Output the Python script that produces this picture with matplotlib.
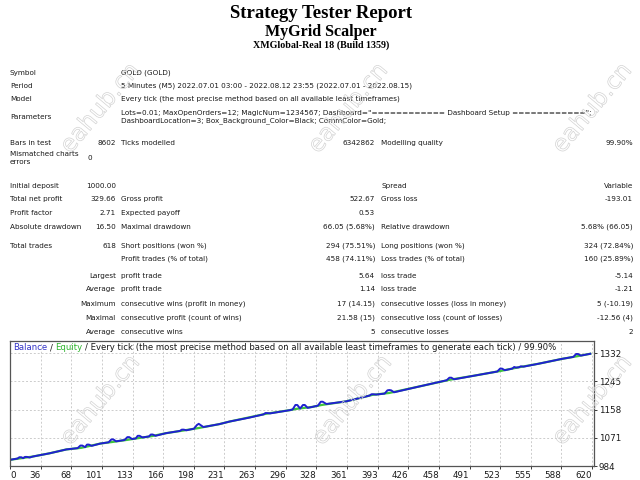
import matplotlib
matplotlib.use("Agg")
import matplotlib.pyplot as plt
import matplotlib.patheffects as pe
import numpy as np

# ---- report header ----
title = "Strategy Tester Report"
ea_name = "MyGrid Scalper"
server = "XMGlobal-Real 18 (Build 1359)"

info_labels = ["Symbol", "Period", "Model", "Parameters"]
info_values = [
    "GOLD (GOLD)",
    "5 Minutes (M5) 2022.07.01 03:00 - 2022.08.12 23:55 (2022.07.01 - 2022.08.15)",
    "Every tick (the most precise method based on all available least timeframes)",
    'Lots=0.01; MaxOpenOrders=12; MagicNum=1234567; Dashboard="============ Dashboard Setup ============";\n'
    "DashboardLocation=3; Box_Background_Color=Black; CommColor=Gold;",
]

# label1, value1, label2, value2, label3, value3
stats_rows = [
    ("Bars in test", "8602", "Ticks modelled", "6342862", "Modelling quality", "99.90%"),
    ("Mismatched charts\nerrors", "0", "", "", "", ""),
    ("Initial deposit", "1000.00", "", "", "Spread", "Variable"),
    ("Total net profit", "329.66", "Gross profit", "522.67", "Gross loss", "-193.01"),
    ("Profit factor", "2.71", "Expected payoff", "0.53", "", ""),
    ("Absolute drawdown", "16.50", "Maximal drawdown", "66.05 (5.68%)", "Relative drawdown", "5.68% (66.05)"),
    ("Total trades", "618", "Short positions (won %)", "294 (75.51%)", "Long positions (won %)", "324 (72.84%)"),
    ("", "", "Profit trades (% of total)", "458 (74.11%)", "Loss trades (% of total)", "160 (25.89%)"),
    ("Largest", "", "profit trade", "5.64", "loss trade", "-5.14"),
    ("Average", "", "profit trade", "1.14", "loss trade", "-1.21"),
    ("Maximum", "", "consecutive wins (profit in money)", "17 (14.15)", "consecutive losses (loss in money)", "5 (-10.19)"),
    ("Maximal", "", "consecutive profit (count of wins)", "21.58 (15)", "consecutive loss (count of losses)", "-12.56 (4)"),
    ("Average", "", "consecutive wins", "5", "consecutive losses", "2"),
]

# ---- balance / equity chart ----
trade_x = [0, 8, 10, 12, 14, 16, 18, 21, 24, 42, 60,
           72, 75, 77, 80, 82, 84, 87, 96,
           105, 108, 110, 113, 122, 125, 127, 130,
           134, 136, 138, 141, 148, 150, 152, 155, 166,
           181, 183, 185, 188, 196, 199, 201, 203, 206, 223, 234, 255,
           270, 272, 274, 277, 298,
           301, 304, 306, 309, 312, 314, 317, 322,
           328, 331, 333, 337, 358,
           383, 385, 387, 390, 399, 402, 404, 406, 409, 436,
           465, 468, 470, 473, 494,
           519, 522, 524, 527, 535, 537, 539, 542, 544, 547, 563, 588,
           600, 603, 605, 608, 618]
balance = [1003, 1007, 1011, 1011, 1008, 1012, 1012, 1010, 1013, 1023, 1035,
           1039, 1047, 1047, 1042, 1050, 1050, 1046, 1053,
           1057, 1066, 1066, 1060, 1064, 1073, 1073, 1067,
           1069, 1077, 1077, 1072, 1075, 1081, 1081, 1077, 1085,
           1092, 1096, 1096, 1094, 1099, 1110, 1114, 1110, 1104, 1113, 1121, 1133,
           1143, 1147, 1147, 1146, 1156,
           1158, 1172, 1172, 1161, 1172, 1172, 1163, 1166,
           1170, 1182, 1182, 1175, 1183,
           1201, 1205, 1205, 1204, 1207, 1217, 1218, 1217, 1211, 1229,
           1248, 1256, 1256, 1251, 1262,
           1275, 1284, 1284, 1279, 1284, 1289, 1287, 1288, 1291, 1290, 1299, 1314,
           1320, 1329, 1329, 1324, 1329.66]

equity_x = [0, 24, 42, 60, 76, 96, 109, 126, 137, 151, 166, 184, 201, 223, 234,
            273, 298, 305, 322, 332, 358, 386, 404, 436, 469, 494, 523, 540,
            563, 588, 604, 618]
equity = [1003, 1013, 1023, 1035, 1040, 1053, 1058, 1065, 1070, 1076, 1085, 1093,
          1101, 1113, 1121, 1145, 1156, 1160, 1166, 1172, 1183, 1203, 1209, 1229,
          1250, 1262, 1277, 1287, 1299, 1314, 1322, 1329.66]

x_tick_labels = ["0", "36", "68", "101", "133", "166", "198", "231", "263", "296",
                 "328", "361", "393", "426", "458", "491", "523", "555", "588", "620"]
y_ticks = [984, 1071, 1158, 1245, 1332]

chart_caption = ("/ Every tick (the most precise method based on all available "
                 "least timeframes to generate each tick) / 99.90%")

W, H = 640, 480
fig = plt.figure(figsize=(6.4, 4.8), dpi=100)
fig.patch.set_facecolor("white")

INK = "#1a1a1a"
TXT = dict(fontsize=5.2, color=INK, family="DejaVu Sans")


def put(x, y, s, **kw):
    return fig.text(x / W, 1 - y / H, s, va="center", **kw)


serif = dict(family="Liberation Serif", fontweight="bold", color="black", ha="center")
put(321, 13, title, fontsize=13.5, **serif)
put(321, 32, ea_name, fontsize=11.5, **serif)
put(321, 45, server, fontsize=7.2, **serif)

info_y = [73, 86, 99, 117]
for y, lab, val in zip(info_y, info_labels, info_values):
    put(10, y, lab, **TXT)
    put(121, y, val, linespacing=1.3, **TXT)

stats_y = [143, 158, 186, 199, 213, 227, 246, 259, 276, 289, 304, 318, 332]
for i, (y, row) in enumerate(zip(stats_y, stats_rows)):
    l1, v1, l2, v2, l3, v3 = row
    if i >= 8:
        put(116, y, l1, ha="right", **TXT)
    else:
        put(10, y, l1, linespacing=1.35, **TXT)
    if i == 1:
        put(90, y, v1, ha="center", **TXT)
    else:
        put(116, y, v1, ha="right", **TXT)
    put(121, y, l2, **TXT)
    put(375, y, v2, ha="right", **TXT)
    put(381, y, l3, **TXT)
    put(633, y, v3, ha="right", **TXT)

# chart box
ax = fig.add_axes([10 / W, 1 - 466 / H, 584 / W, 125 / H])
ax.plot(equity_x, equity, color="#3ec43e", lw=1.6, solid_joinstyle="round")
ax.plot(trade_x, balance, color="#2020d0", lw=1.4, solid_joinstyle="round")
ax.set_xlim(0, 622)
ax.set_ylim(984, 1369)
ax.set_xticks(np.linspace(0, 620, len(x_tick_labels)))
ax.set_xticklabels(x_tick_labels)
ax.set_yticks(y_ticks)
ax.yaxis.tick_right()
ax.grid(True, color="#cccccc", linestyle=(0, (2, 2)), lw=0.7)
ax.set_axisbelow(True)
for s in ax.spines.values():
    s.set_color("#555555")
    s.set_linewidth(0.9)
ax.tick_params(length=2, pad=1.5, labelsize=6.3, colors=INK, width=0.6)
for lab in ax.get_xticklabels():
    lab.set_horizontalalignment("right")
ax.get_xticklabels()[0].set_horizontalalignment("left")

cap = dict(fontsize=6.1, va="center", family="DejaVu Sans")
t = ax.text(3 / 584, 1 - 7 / 125, "Balance", transform=ax.transAxes, color="#3434c8", **cap)
for piece, col in [("/", INK), ("Equity", "#2fb52f"), (chart_caption, INK)]:
    t = ax.annotate(piece, xy=(1, 0.5), xycoords=t, xytext=(2.0, 0),
                    textcoords="offset points", ha="left", color=col, **cap)

# watermarks
wm_pos = [(100, 108), (348, 108), (592, 108), (100, 400), (352, 400), (592, 400)]
for x, y in wm_pos:
    fig.text(x / W, 1 - y / H, "eahub.cn", ha="center", va="center", rotation=50,
             fontsize=17, family="DejaVu Sans", color=(1, 1, 1, 0),
             path_effects=[pe.Stroke(linewidth=0.5, foreground="#d2d2d2")])

fig.savefig("out.png", dpi=100)
